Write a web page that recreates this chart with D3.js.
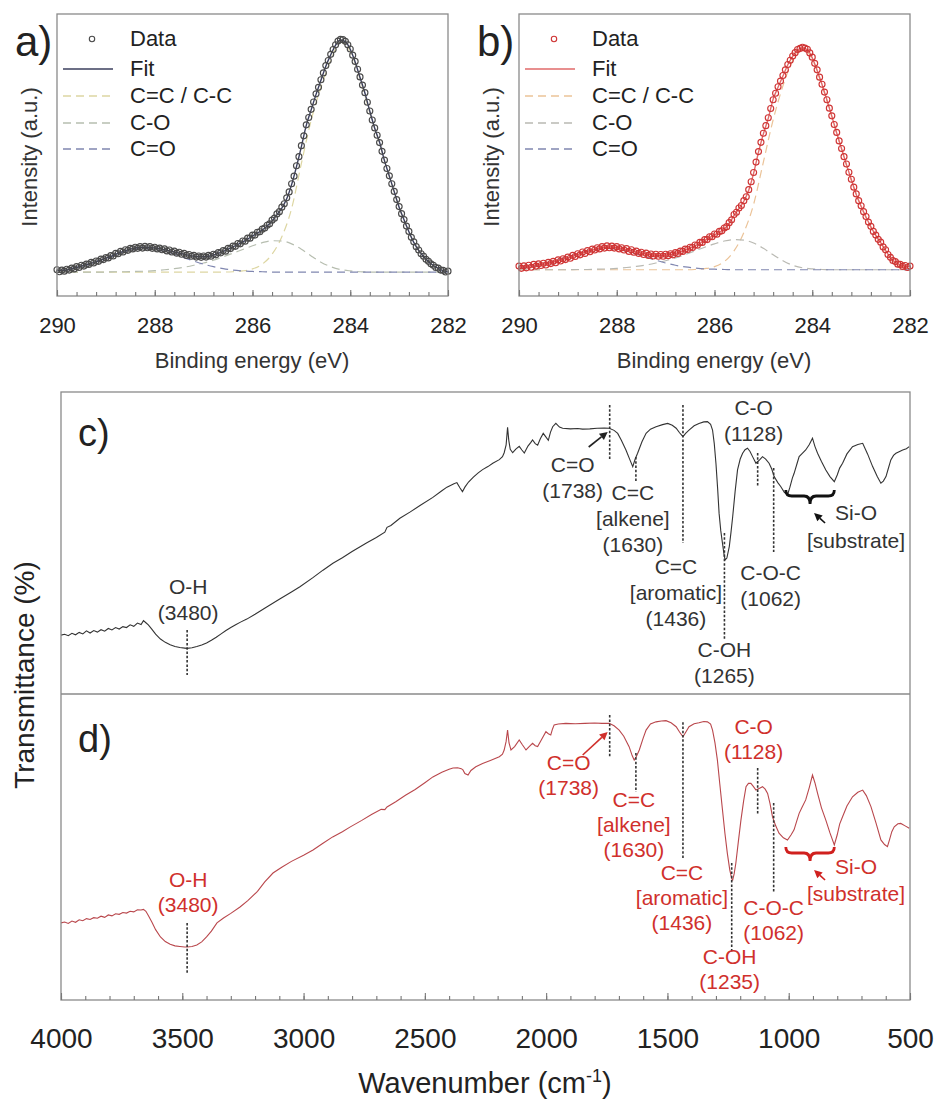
<!DOCTYPE html>
<html>
<head>
<meta charset="utf-8">
<script src="https://cdn.jsdelivr.net/npm/d3@7"></script>
<style>
  body { margin: 0; background: #fff; }
  svg { display: block; font-family: "Liberation Sans", Arial, sans-serif; }
</style>
</head>
<body>
<div id="chart"></div>
<script>
// ---------------- XPS C1s (a.u.) ----------------
// data every 0.05 eV, fit every 0.1 eV, components every 0.2 eV, from 290 down to 282
var dataA = [
  9.3, 8.6, 9.2, 8.8, 9.5, 9.2, 9.9, 9.6, 10.4, 10.1,
  10.9, 10.6, 11.3, 11.2, 11.9, 11.7, 12.4, 12.3, 13.1, 12.9,
  13.6, 13.5, 14.3, 14.2, 15.1, 15.0, 15.8, 15.6, 16.4, 16.2,
  16.9, 16.7, 17.3, 16.9, 17.5, 17.0, 17.6, 17.1, 17.5, 16.9,
  17.3, 16.7, 17.0, 16.4, 16.7, 16.0, 16.3, 15.6, 15.9, 15.2,
  15.5, 14.8, 15.1, 14.4, 14.7, 14.1, 14.4, 13.8, 14.2, 13.7,
  14.2, 13.8, 14.4, 14.1, 14.8, 14.6, 15.4, 15.3, 16.1, 15.9,
  16.9, 16.8, 17.7, 17.6, 18.6, 18.5, 19.5, 19.4, 20.5, 20.5,
  21.6, 21.6, 22.6, 22.8, 23.7, 24.1, 25.1, 25.6, 26.9, 27.6,
  29.1, 29.9, 31.5, 32.7, 34.8, 36.9, 39.8, 42.5, 46.2, 49.4,
  53.3, 56.8, 60.7, 63.3, 66.2, 68.8, 71.7, 74.0, 76.7, 79.1,
  81.7, 83.5, 85.7, 87.4, 89.1, 90.4, 91.0, 90.9, 90.3, 89.1,
  87.6, 85.4, 83.2, 80.4, 77.7, 74.8, 72.1, 68.7, 65.6, 62.4,
  59.6, 57.0, 54.4, 51.3, 48.2, 45.2, 42.6, 39.8, 37.1, 34.2,
  31.7, 29.2, 27.1, 24.8, 22.9, 20.8, 19.2, 17.5, 16.3, 15.0,
  14.1, 13.0, 12.3, 11.4, 10.9, 10.1, 9.9, 9.2, 9.1, 8.5,
  8.8
];
var fitA = [
  9.0, 9.0, 9.2, 9.6, 10.1, 10.6, 11.1, 11.6, 12.2, 12.8,
  13.4, 14.0, 14.8, 15.5, 16.1, 16.6, 17.0, 17.2, 17.3, 17.2,
  17.0, 16.8, 16.4, 16.0, 15.6, 15.2, 14.8, 14.4, 14.1, 13.9,
  13.9, 14.1, 14.5, 15.1, 15.8, 16.6, 17.4, 18.3, 19.2, 20.2,
  21.3, 22.3, 23.4, 24.8, 26.6, 28.8, 31.2, 34.5, 39.5, 45.9,
  53.0, 60.5, 66.0, 71.5, 76.5, 81.5, 85.5, 89.0, 90.8, 90.2,
  87.5, 83.0, 77.5, 72.0, 65.5, 59.5, 54.5, 48.0, 42.5, 37.0,
  31.5, 27.0, 22.8, 19.0, 16.2, 14.0, 12.2, 10.8, 9.8, 9.0,
  8.6
];
var ccA = [
  8.5, 8.5, 8.5, 8.5, 8.5, 8.5, 8.5, 8.5, 8.5, 8.5,
  8.5, 8.5, 8.5, 8.5, 8.5, 8.5, 8.5, 8.5, 8.6, 8.9,
  9.6, 11.3, 14.8, 21.0, 31.0, 47.0, 62.3, 74.0, 83.5, 90.0,
  86.8, 77.0, 65.0, 54.0, 42.3, 31.4, 22.7, 16.1, 12.1, 9.7,
  8.6
];
var coA = [
  8.5, 8.5, 8.5, 8.5, 8.5, 8.5, 8.6, 8.6, 8.7, 8.8,
  9.0, 9.3, 9.7, 10.2, 10.9, 11.7, 12.7, 13.9, 15.2, 16.5,
  17.8, 18.9, 19.6, 19.5, 18.5, 16.6, 14.2, 12.0, 10.4, 9.4,
  8.9, 8.6, 8.5, 8.5, 8.5, 8.5, 8.5, 8.5, 8.5, 8.5,
  8.5
];
var cdoA = [
  9.0, 9.5, 10.2, 11.0, 12.1, 13.3, 14.6, 15.7, 16.5, 16.8,
  16.5, 15.8, 14.8, 13.6, 12.4, 11.3, 10.4, 9.7, 9.2, 8.9,
  8.7, 8.6, 8.5, 8.5, 8.5, 8.5, 8.5, 8.5, 8.5, 8.5,
  8.5, 8.5, 8.5, 8.5, 8.5, 8.5, 8.5, 8.5, 8.5, 8.5,
  8.5
];

var dataB = [
  10.6, 9.8, 10.7, 10.0, 10.9, 10.2, 11.2, 10.6, 11.4, 10.8,
  11.6, 11.0, 11.9, 11.5, 12.3, 11.8, 12.8, 12.4, 13.2, 12.9,
  13.8, 13.4, 14.4, 14.0, 15.0, 14.6, 15.6, 15.1, 16.1, 15.7,
  16.6, 16.3, 17.1, 16.7, 17.5, 17.0, 17.8, 17.1, 17.7, 17.0,
  17.5, 16.7, 17.1, 16.3, 16.8, 15.8, 16.4, 15.5, 15.9, 15.1,
  15.5, 14.7, 15.2, 14.4, 14.9, 14.2, 14.8, 14.1, 14.7, 14.1,
  14.8, 14.3, 15.0, 14.6, 15.4, 15.1, 15.9, 15.8, 16.6, 16.5,
  17.3, 17.2, 18.1, 18.0, 19.0, 19.0, 20.0, 20.0, 21.0, 21.0,
  22.0, 21.9, 22.9, 23.1, 24.1, 24.6, 26.0, 27.0, 28.9, 29.7,
  31.2, 32.1, 33.8, 35.2, 37.7, 40.5, 43.8, 47.5, 51.2, 54.5,
  57.7, 60.4, 63.2, 66.5, 69.6, 71.9, 74.2, 76.2, 78.2, 80.2,
  82.1, 83.6, 85.1, 86.3, 87.4, 87.8, 88.2, 87.9, 87.5, 86.2,
  84.7, 82.5, 80.2, 77.6, 75.1, 72.3, 69.6, 66.6, 63.9, 60.8,
  58.0, 55.0, 52.3, 49.4, 46.8, 43.9, 41.4, 38.6, 36.2, 33.8,
  32.0, 29.9, 28.2, 26.2, 24.7, 22.9, 21.6, 20.1, 19.1, 17.4,
  16.4, 14.7, 13.7, 12.6, 12.2, 11.3, 11.2, 10.5, 10.8, 10.1,
  10.6
];
var fitB = [
  10.2, 10.4, 10.6, 10.9, 11.1, 11.3, 11.6, 12.0, 12.5, 13.0,
  13.5, 14.1, 14.7, 15.3, 15.8, 16.3, 16.8, 17.2, 17.4, 17.4,
  17.2, 16.9, 16.5, 16.1, 15.6, 15.2, 14.9, 14.6, 14.5, 14.4,
  14.5, 14.7, 15.1, 15.6, 16.3, 17.0, 17.8, 18.7, 19.7, 20.7,
  21.7, 22.6, 23.8, 25.7, 28.6, 31.0, 33.6, 37.5, 43.5, 51.0,
  57.5, 63.0, 69.8, 74.0, 78.0, 82.0, 85.0, 87.2, 88.0, 87.3,
  84.5, 80.0, 75.0, 69.5, 63.8, 57.8, 52.2, 46.6, 41.2, 36.0,
  31.8, 28.0, 24.5, 21.5, 18.9, 16.2, 13.5, 12.0, 11.0, 10.6,
  10.4
];
var ccB = [
  9.3, 9.3, 9.3, 9.3, 9.3, 9.3, 9.3, 9.3, 9.3, 9.3,
  9.3, 9.3, 9.3, 9.3, 9.3, 9.3, 9.3, 9.3, 9.4, 9.7,
  10.4, 12.2, 16.0, 22.5, 32.5, 47.5, 62.5, 74.5, 83.5, 87.5,
  84.0, 74.6, 63.6, 52.0, 41.0, 31.6, 24.3, 18.8, 13.4, 10.5,
  9.9
];
var coB = [
  9.3, 9.3, 9.3, 9.3, 9.3, 9.3, 9.4, 9.4, 9.5, 9.6,
  9.8, 10.1, 10.5, 11.0, 11.7, 12.5, 13.5, 14.7, 16.0, 17.3,
  18.5, 19.5, 20.0, 19.8, 18.8, 16.9, 14.6, 12.5, 10.9, 10.0,
  9.6, 9.4, 9.3, 9.3, 9.3, 9.3, 9.3, 9.3, 9.3, 9.3,
  9.3
];
var cdoB = [
  9.8, 10.3, 10.9, 11.7, 12.7, 13.8, 14.9, 15.9, 16.6, 16.9,
  16.6, 15.9, 14.9, 13.8, 12.7, 11.7, 10.9, 10.3, 9.9, 9.6,
  9.5, 9.4, 9.3, 9.3, 9.3, 9.3, 9.3, 9.3, 9.3, 9.3,
  9.3, 9.3, 9.3, 9.3, 9.3, 9.3, 9.3, 9.3, 9.3, 9.3,
  9.3
];

var xpsTicks = [290, 288, 286, 284, 282];
var legendNames = ["Data", "Fit", "C=C / C-C", "C-O", "C=O"];

// ---------------- FTIR spectra [wavenumber, transmittance (arb.)] ----------------
var specC = [
  [4000,19.5],[3985,19.8],[3970,19.3],[3955,20.1],[3940,19.6],[3925,20.4],[3910,19.9],[3895,20.9],
  [3880,20.2],[3865,21.0],[3850,20.5],[3835,21.3],[3820,20.8],[3805,21.7],[3790,21.2],[3775,22.0],
  [3760,21.5],[3745,22.3],[3730,22.0],[3715,22.9],[3700,22.4],[3685,23.5],[3670,23.0],[3660,24.3],
  [3650,23.6],[3640,22.9],[3625,21.4],[3610,19.8],[3590,18.2],[3570,17.1],[3550,16.3],[3530,15.7],
  [3510,15.4],[3490,15.2],[3480,15.1],[3460,15.3],[3440,15.7],[3420,16.2],[3400,16.9],[3380,17.8],
  [3360,18.8],[3340,19.9],[3320,21.0],[3300,22.0],[3280,22.9],[3260,23.8],[3234,24.8],[3200,26.4],
  [3152,28.8],[3100,31.4],[3050,33.8],[3015,35.5],[2960,38.6],[2920,41.0],[2879,43.3],[2840,45.1],
  [2800,47.2],[2739,50.1],[2700,51.8],[2665,53.6],[2656,55.2],[2640,55.8],[2603,58.2],[2560,60.3],
  [2520,62.4],[2467,65.1],[2430,67.3],[2409,68.5],[2380,69.6],[2368,70.0],[2355,68.2],[2345,67.0],
  [2335,68.5],[2320,70.2],[2300,71.8],[2280,73.2],[2262,74.3],[2240,75.3],[2220,76.4],[2193,77.6],
  [2180,78.6],[2173,79.9],[2165,82.5],[2159,88.3],[2154,84.0],[2148,81.0],[2138,79.9],[2125,81.1],
  [2111,82.0],[2100,80.8],[2090,79.8],[2075,82.1],[2063,83.3],[2056,84.1],[2045,82.9],[2035,82.4],
  [2024,84.5],[2012,86.3],[2002,85.2],[1991,84.0],[1982,86.7],[1973,88.5],[1960,89.6],[1945,88.4],
  [1932,88.0],[1900,87.8],[1870,87.9],[1850,87.7],[1820,87.8],[1790,88.0],[1760,88.1],[1740,88.0],
  [1720,87.3],[1705,86.3],[1690,84.0],[1671,80.8],[1655,77.6],[1643,75.3],[1633,77.8],[1623,79.7],
  [1605,83.5],[1588,86.3],[1570,87.7],[1547,88.5],[1520,89.2],[1499,89.6],[1480,89.0],[1464,88.0],
  [1450,86.5],[1436,85.2],[1425,86.3],[1411,87.4],[1390,88.8],[1370,89.6],[1350,90.1],[1335,90.2],
  [1322,89.3],[1314,87.4],[1307,83.0],[1300,76.4],[1293,68.0],[1287,59.8],[1280,54.0],[1273,49.9],
  [1266,45.8],[1262,44.4],[1255,45.0],[1245,48.8],[1238,53.5],[1231,58.7],[1221,67.0],[1211,74.2],
  [1200,77.8],[1190,79.7],[1180,80.9],[1170,81.4],[1160,80.4],[1149,78.6],[1135,76.4],[1120,77.5],
  [1108,78.6],[1095,77.8],[1081,76.4],[1070,74.5],[1060,72.0],[1045,70.0],[1033,68.7],[1018,66.8],
  [1005,65.9],[995,68.5],[985,71.5],[978,73.0],[965,76.5],[957,78.6],[945,79.6],[930,80.8],
  [915,82.6],[902,84.7],[892,82.0],[881,79.7],[865,77.0],[847,74.2],[830,72.0],[812,70.3],
  [800,72.5],[790,74.8],[778,76.4],[760,79.5],[737,81.9],[715,82.6],[695,83.0],[675,79.5],
  [654,75.3],[635,72.0],[620,69.8],[610,70.5],[599,72.0],[590,74.5],[579,77.5],[568,79.0],
  [558,79.7],[545,80.2],[530,80.8],[515,81.2],[503,81.9]
];
var specD = [
  [4000,25.2],[3985,25.5],[3970,25.0],[3955,25.8],[3940,25.4],[3925,26.2],[3910,25.9],[3895,26.6],
  [3880,26.3],[3865,26.9],[3850,26.7],[3835,27.4],[3820,27.0],[3805,27.8],[3790,27.5],[3775,28.2],
  [3760,28.0],[3745,28.6],[3730,28.4],[3715,29.0],[3700,28.8],[3685,29.5],[3670,29.4],[3660,29.6],
  [3650,29.0],[3640,27.6],[3625,25.4],[3610,23.0],[3590,20.6],[3570,19.1],[3550,18.2],[3530,17.7],
  [3510,17.5],[3490,17.3],[3480,17.3],[3460,17.5],[3440,18.0],[3420,19.0],[3400,20.6],[3380,22.5],
  [3357,25.2],[3330,26.8],[3300,28.3],[3262,30.4],[3230,32.5],[3190,35.5],[3160,38.6],[3126,41.5],
  [3090,43.4],[3050,45.3],[3000,47.3],[2961,49.0],[2920,51.2],[2880,53.3],[2840,55.0],[2809,56.5],
  [2760,58.7],[2720,60.6],[2680,62.3],[2665,62.2],[2656,63.1],[2620,64.8],[2580,66.9],[2540,68.8],
  [2500,71.0],[2467,72.9],[2430,74.4],[2400,75.4],[2384,75.8],[2365,75.9],[2350,75.6],[2343,75.2],
  [2335,74.0],[2322,73.5],[2310,75.0],[2290,76.2],[2262,77.3],[2230,78.3],[2193,79.5],[2180,80.3],
  [2173,81.7],[2165,84.5],[2159,88.2],[2153,84.0],[2145,81.7],[2130,82.8],[2111,85.0],[2098,83.4],
  [2083,81.7],[2070,82.8],[2056,83.9],[2045,83.1],[2035,82.8],[2020,85.0],[2001,87.7],[1991,87.0],
  [1981,86.6],[1974,88.5],[1967,89.9],[1950,90.2],[1919,90.4],[1880,90.3],[1840,90.4],[1800,90.5],
  [1770,90.4],[1740,90.4],[1720,89.6],[1699,88.2],[1680,86.2],[1658,82.8],[1645,79.8],[1637,78.4],
  [1628,79.6],[1616,81.7],[1600,85.6],[1588,88.2],[1570,90.2],[1547,90.9],[1525,91.2],[1506,91.3],
  [1485,90.6],[1464,89.3],[1450,87.6],[1436,86.0],[1424,87.6],[1411,89.3],[1390,90.3],[1370,90.6],
  [1350,91.0],[1335,90.9],[1322,90.2],[1314,88.2],[1304,84.0],[1294,78.4],[1284,70.5],[1273,62.1],
  [1263,54.5],[1253,47.9],[1243,42.5],[1235,39.6],[1231,39.2],[1225,41.2],[1218,44.7],[1208,51.5],
  [1197,58.8],[1186,65.0],[1176,69.7],[1166,70.8],[1156,70.8],[1146,69.8],[1135,68.6],[1120,69.2],
  [1108,69.7],[1097,68.9],[1087,67.5],[1077,64.2],[1067,59.9],[1054,57.0],[1040,54.5],[1022,53.0],
  [1005,52.3],[990,54.0],[978,55.6],[968,58.2],[957,61.0],[945,63.0],[930,65.4],[915,69.5],
  [902,73.5],[892,71.0],[881,67.5],[865,62.8],[847,58.8],[830,54.6],[812,50.7],[800,54.0],
  [790,57.5],[778,59.9],[760,63.4],[737,66.4],[715,67.9],[695,68.6],[680,66.8],[661,63.2],
  [640,57.8],[620,52.3],[605,50.8],[593,50.1],[584,52.5],[575,55.0],[565,56.6],[550,57.6],
  [538,57.7],[520,56.9],[503,56.1]
];

var irTicks = [4000, 3500, 3000, 2500, 2000, 1500, 1000, 500];

// assigned bands: wavenumber, label lines, extent of the dashed marker (transmittance units)
var peaksC = [3480, 1738, 1630, 1436, 1265, 1128, 1062];
var namesC = [["O-H", "(3480)"], ["C=O", "(1738)"], ["C=C", "[alkene]", "(1630)"],
  ["C=C", "[aromatic]", "(1436)"], ["C-OH", "(1265)"], ["C-O", "(1128)"], ["C-O-C", "(1062)"]];
var markC = [[21.2, 6.3], [95.7, 77.5], [78.5, 70.2], [95.7, 50.0], [53.3, 17.9], [79.8, 68.5], [74.8, 47.0]];

var peaksD = [3480, 1738, 1630, 1436, 1235, 1128, 1062];
var namesD = [["O-H", "(3480)"], ["C=O", "(1738)"], ["C=C", "[alkene]", "(1630)"],
  ["C=C", "[aromatic]", "(1436)"], ["C-OH", "(1235)"], ["C-O", "(1128)"], ["C-O-C", "(1062)"]];
var markD = [[25.2, 8.8], [93.1, 79.1], [80.7, 68.0], [90.8, 45.8], [44.8, 15.4], [75.8, 60.5], [64.4, 35.0]];

var siBand = [1012, 812];   // Si-O [substrate] range marked by the brace

// ---------------- drawing ----------------
var W = 936, H = 1101;
var FONT = '"Liberation Sans", Arial, sans-serif';
var svg = d3.select("#chart").append("svg").attr("width", W).attr("height", H);
svg.append("rect").attr("width", W).attr("height", H).attr("fill", "#fff");

function styleAxis(sel, size) {
  sel.select(".domain").remove();
  sel.selectAll("line").attr("stroke", "#777").attr("stroke-width", 1.1);
  sel.selectAll("text").attr("font-family", FONT).attr("font-size", size).attr("fill", "#222");
}

function drawXps(cfg) {
  var top = 14, bottom = 296;
  var x = d3.scaleLinear().domain([290, 282]).range([cfg.left, cfg.left + 391]);
  var y = d3.scaleLinear().domain([0, 100]).range([bottom, top]);
  var g = svg.append("g");

  var line = d3.line().x(function (d) { return x(d[0]); }).y(function (d) { return y(d[1]); })
    .curve(d3.curveMonotoneX);
  function grid(vals, step) {
    return vals.map(function (v, i) { return [290 - i * step, v]; });
  }

  // fitted components
  cfg.comps.forEach(function (c, i) {
    g.append("path").datum(grid(c, 0.2)).attr("d", line)
      .attr("fill", "none").attr("stroke", cfg.compColors[i])
      .attr("stroke-width", 1.2).attr("stroke-dasharray", "8,5");
  });
  // envelope
  g.append("path").datum(grid(cfg.fit, 0.1)).attr("d", line)
    .attr("fill", "none").attr("stroke", cfg.fitColor).attr("stroke-width", 1.4);
  // measured points
  g.selectAll("circle.pt").data(grid(cfg.data, 0.05)).enter().append("circle")
    .attr("class", "pt")
    .attr("cx", function (d) { return x(d[0]); })
    .attr("cy", function (d) { return y(d[1]); })
    .attr("r", 3).attr("fill", "none")
    .attr("stroke", cfg.dataColor).attr("stroke-width", 1.15);

  // frame
  g.append("rect").attr("x", cfg.left).attr("y", top).attr("width", 391).attr("height", bottom - top)
    .attr("fill", "none").attr("stroke", "#8a8a8a").attr("stroke-width", 1.3);

  // axis
  g.append("g").attr("transform", "translate(0," + bottom + ")")
    .call(d3.axisBottom(x).tickValues(d3.range(290, 281.9, -0.4)).tickSize(-4).tickFormat(""))
    .call(styleAxis, 22);
  g.append("g").attr("transform", "translate(0," + bottom + ")")
    .call(d3.axisBottom(x).tickValues(xpsTicks).tickSize(-6).tickPadding(21).tickFormat(d3.format("d")))
    .call(styleAxis, 22);

  g.append("text").attr("x", cfg.left + 195).attr("y", 368).attr("text-anchor", "middle")
    .attr("font-size", 22).attr("fill", "#333").text("Binding energy (eV)");
  g.append("text").attr("transform", "translate(" + (cfg.left - 20) + ",157) rotate(-90)")
    .attr("text-anchor", "middle").attr("font-size", 22).attr("fill", "#333").text("Intensity (a.u.)");
  g.append("text").attr("x", cfg.left - 42).attr("y", 56).attr("font-size", 42).attr("fill", "#222")
    .text(cfg.tag);

  // legend
  var lx = cfg.left + 6, rows = [46, 76, 103, 130, 156];
  legendNames.forEach(function (name, i) {
    var ry = rows[i] - 7;
    if (i === 0) {
      g.append("circle").attr("cx", lx + 29).attr("cy", ry).attr("r", 2.7)
        .attr("fill", "none").attr("stroke", cfg.dataColor).attr("stroke-width", 1.1);
    } else {
      g.append("line").attr("x1", lx).attr("x2", lx + 50).attr("y1", ry).attr("y2", ry)
        .attr("stroke", i === 1 ? cfg.fitColor : cfg.compColors[i - 2])
        .attr("stroke-width", 1.4).attr("stroke-dasharray", i === 1 ? null : "8,5");
    }
    g.append("text").attr("x", lx + 67).attr("y", rows[i]).attr("font-size", 22).attr("fill", "#222")
      .text(name);
  });
}

drawXps({
  left: 57, tag: "a)", data: dataA, fit: fitA, comps: [ccA, coA, cdoA],
  dataColor: "#4a4a4a", fitColor: "#3b3f5e", compColors: ["#ddd6a2", "#b7beb0", "#8087b0"]
});
drawXps({
  left: 519, tag: "b)", data: dataB, fit: fitB, comps: [ccB, coB, cdoB],
  dataColor: "#cf3535", fitColor: "#e16a6a", compColors: ["#ebc398", "#b9b9b2", "#8087b0"]
});

// ---------------- FTIR ----------------
var irLeft = 61, irRight = 910;
var xi = d3.scaleLinear().domain([4000, 500]).range([irLeft, irRight]);
var yC = d3.scaleLinear().domain([0, 100]).range([694, 392]);
var yD = d3.scaleLinear().domain([0, 100]).range([1000, 694]);

function arrowHead(g, x1, y1, x2, y2, color) {
  var a = Math.atan2(y2 - y1, x2 - x1), L = 8, w = 4;
  var bx = x2 - L * Math.cos(a), by = y2 - L * Math.sin(a);
  g.append("line").attr("x1", x1).attr("y1", y1).attr("x2", bx).attr("y2", by)
    .attr("stroke", color).attr("stroke-width", 1.6);
  g.append("path").attr("d", "M" + x2 + "," + y2 +
      "L" + (bx + w * Math.sin(a)) + "," + (by - w * Math.cos(a)) +
      "L" + (bx - w * Math.sin(a)) + "," + (by + w * Math.cos(a)) + "Z")
    .attr("fill", color);
}

function drawIr(cfg) {
  var g = svg.append("g");
  var y = cfg.y;
  g.append("path").datum(cfg.spec)
    .attr("d", d3.line().x(function (d) { return xi(d[0]); }).y(function (d) { return y(d[1]); }))
    .attr("fill", "none").attr("stroke", cfg.lineColor).attr("stroke-width", 1.1);

  // dashed band markers
  cfg.peaks.forEach(function (p, i) {
    g.append("line").attr("x1", xi(p)).attr("x2", xi(p))
      .attr("y1", y(cfg.marks[i][0])).attr("y2", y(cfg.marks[i][1]))
      .attr("stroke", "#333").attr("stroke-width", 1.6).attr("stroke-dasharray", "2.5,1.8");
  });

  // band labels
  cfg.names.forEach(function (lines, i) {
    var lay = cfg.layout[i];
    var t = g.append("text").attr("text-anchor", "middle").attr("font-size", 21)
      .attr("fill", cfg.textColor);
    lines.forEach(function (s, j) {
      t.append("tspan").attr("x", xi(cfg.peaks[i]) + lay[0]).attr("y", lay[1] + 7 + j * cfg.lead).text(s);
    });
  });

  // C=O arrow
  var xo = xi(cfg.peaks[1]);
  arrowHead(g, xo + cfg.coArrow[0], cfg.coArrow[1], xo - 2, cfg.coArrow[2], cfg.textColor === "#333" ? "#222" : cfg.textColor);

  // Si-O brace
  var b1 = xi(siBand[0]), b2 = xi(siBand[1]), bm = (b1 + b2) / 2;
  var yt = cfg.brace[0], yl = cfg.brace[0] + 6, yp = cfg.brace[1];
  g.append("path")
    .attr("d", "M" + b1 + "," + yt + " Q" + b1 + "," + yl + " " + (b1 + 6) + "," + yl +
      " L" + (bm - 6) + "," + yl + " Q" + bm + "," + yl + " " + bm + "," + yp +
      " Q" + bm + "," + yl + " " + (bm + 6) + "," + yl +
      " L" + (b2 - 6) + "," + yl + " Q" + b2 + "," + yl + " " + b2 + "," + yt)
    .attr("fill", "none").attr("stroke", cfg.braceColor).attr("stroke-width", 2.8);
  arrowHead(g, bm + 15, yp + 19, bm + 4, yp + 9, cfg.braceColor);
  var st = g.append("text").attr("text-anchor", "middle").attr("font-size", 21).attr("fill", cfg.textColor);
  st.append("tspan").attr("x", 856).attr("y", cfg.siY + 7).text("Si-O");
  st.append("tspan").attr("x", 856).attr("y", cfg.siY + 7 + cfg.lead + 2).text("[substrate]");

  g.append("text").attr("x", 78).attr("y", cfg.tagY).attr("font-size", 38).attr("fill", "#222").text(cfg.tag);
}

drawIr({
  spec: specC, y: yC, peaks: peaksC, names: namesC, marks: markC, tag: "c)", tagY: 446,
  lineColor: "#333", textColor: "#333", braceColor: "#111", lead: 26,
  layout: [[1, 587], [-37, 465], [-3, 493], [-7, 567], [0, 650], [-4, 408], [-3, 573]],
  coArrow: [-21, 447, 432], brace: [490, 504], siY: 513
});
drawIr({
  spec: specD, y: yD, peaks: peaksD, names: namesD, marks: markD, tag: "d)", tagY: 752,
  lineColor: "#b9474c", textColor: "#d0302c", braceColor: "#d0201e", lead: 25,
  layout: [[1, 880], [-41, 763], [-2, 800], [-1, 873], [-2, 957], [-4, 727], [0, 908]],
  coArrow: [-27, 755, 732], brace: [847, 861], siY: 867
});

// frame of c/d
svg.append("rect").attr("x", irLeft).attr("y", 392).attr("width", irRight - irLeft).attr("height", 608)
  .attr("fill", "none").attr("stroke", "#8a8a8a").attr("stroke-width", 1.3);
svg.append("line").attr("x1", irLeft).attr("x2", irRight).attr("y1", 694).attr("y2", 694)
  .attr("stroke", "#8a8a8a").attr("stroke-width", 1.3);

svg.append("g").attr("transform", "translate(0,1000)")
  .call(d3.axisBottom(xi).tickValues(d3.range(4000, 499, -100)).tickSize(-4).tickFormat(""))
  .call(styleAxis, 28);
svg.append("g").attr("transform", "translate(0,1000)")
  .call(d3.axisBottom(xi).tickValues(irTicks).tickSize(-7).tickPadding(28).tickFormat(d3.format("d")))
  .call(styleAxis, 28);

var xl = svg.append("text").attr("x", 485).attr("y", 1093).attr("text-anchor", "middle")
  .attr("font-size", 29).attr("fill", "#222");
xl.append("tspan").text("Wavenumber (cm");
xl.append("tspan").attr("font-size", 18).attr("dy", -11).text("-1");
xl.append("tspan").attr("dy", 11).text(")");

svg.append("text").attr("transform", "translate(34,675) rotate(-90)").attr("text-anchor", "middle")
  .attr("font-size", 28).attr("fill", "#222").text("Transmittance (%)");
</script>
</body>
</html>
